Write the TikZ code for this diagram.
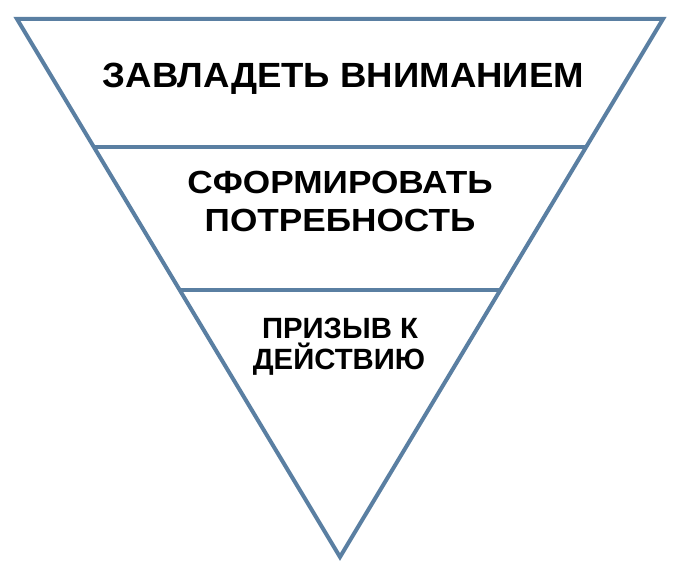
\documentclass[tikz,border=0pt]{standalone}
\usepackage{fontspec}
\setmainfont{Liberation Sans}
\usetikzlibrary{calc}
\definecolor{edge}{RGB}{90,127,162}
\tikzset{
  funnel/.style={draw=edge, line width=4pt, line join=miter},
  divider/.style={draw=edge, line width=4pt},
  toptxt/.style={anchor=base, inner sep=0pt, font=\bfseries\fontsize{35}{40}\selectfont},
  midtxt/.style={anchor=base, inner sep=0pt, font=\bfseries\fontsize{32}{37}\selectfont},
  smalltxt/.style={anchor=base, inner sep=0pt, font=\bfseries\fontsize{29.3}{33}\selectfont}
}
\begin{document}
\begin{tikzpicture}[x=1pt,y=1pt]
\useasboundingbox (0,0) rectangle (680,580);
\coordinate (TL) at (17,561);
\coordinate (TR) at (663,561);
\coordinate (A) at (340,23);
\draw[funnel] (TL) -- (TR) -- (A) -- cycle;
\coordinate (L1) at ($(TL)!0.2379!(A)$);
\coordinate (R1) at ($(TR)!0.2379!(A)$);
\coordinate (L2) at ($(TL)!0.5037!(A)$);
\coordinate (R2) at ($(TR)!0.5037!(A)$);
\draw[divider] (L1) -- (R1);
\draw[divider] (L2) -- (R2);
\node[toptxt] (t1) at (343.5,492) {\scalebox{1.045}[1]{ЗАВЛАДЕТЬ ВНИМАНИЕМ}};
\node[midtxt] (t2a) at (340,386.5) {\scalebox{1.1}[1]{СФОРМИРОВАТЬ}};
\node[midtxt] (t2b) at (340,348) {\scalebox{1.1}[1]{ПОТРЕБНОСТЬ}};
\node[smalltxt] (t3a) at (340,241.5) {\scalebox{1.0}[1]{ПРИЗЫВ К}};
\node[smalltxt] (t3b) at (339,210) {\scalebox{1.0}[1]{ДЕЙСТВИЮ}};
\end{tikzpicture}
\end{document}
